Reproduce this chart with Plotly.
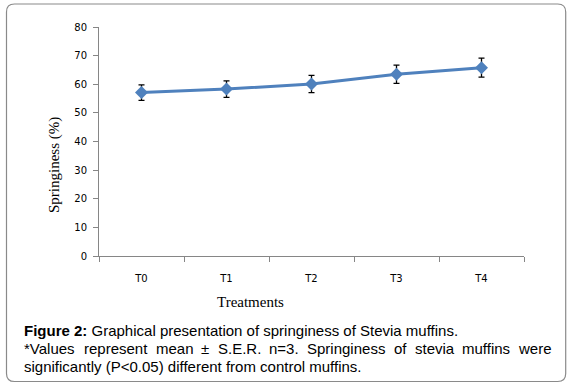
import plotly.graph_objects as go

categories = ["T0", "T1", "T2", "T3", "T4"]
springiness = [57.1, 58.3, 60.1, 63.5, 65.8]
ser = [2.7, 2.9, 3.0, 3.2, 3.3]
y_ticks = [0, 10, 20, 30, 40, 50, 60, 70, 80]

W, H = 575, 389
L, R, T, B = 99, 51, 27, 133
pw, ph = W - L - R, H - T - B

def px(x):
    return (x - L) / pw

def py(y):
    return (H - B - y) / ph

fig = go.Figure()
fig.add_trace(go.Scatter(
    x=categories, y=springiness,
    mode="lines+markers",
    line=dict(color="#4F81BD", width=3),
    marker=dict(symbol="diamond", size=10, color="#4F81BD"),
    error_y=dict(type="data", array=ser, visible=True, color="black", thickness=1.3, width=3),
    showlegend=False,
))

# rounded border
x0, x1 = px(6.5), px(565.7)
y0, y1 = py(381.5), py(4)
rx, ry = 8 / pw, 8 / ph
path = (f"M {x0+rx},{y1} L {x1-rx},{y1} Q {x1},{y1} {x1},{y1-ry} "
        f"L {x1},{y0+ry} Q {x1},{y0} {x1-rx},{y0} L {x0+rx},{y0} "
        f"Q {x0},{y0} {x0},{y0+ry} L {x0},{y1-ry} Q {x0},{y1} {x0+rx},{y1} Z")
fig.add_shape(type="path", path=path, xref="paper", yref="paper",
              line=dict(color="#8a8a8a", width=1.2))

fig.add_annotation(text="Treatments", xref="paper", yref="paper",
                   x=px(250), y=py(302), xanchor="center", yanchor="middle", showarrow=False,
                   font=dict(family="Liberation Serif", size=15, color="black"))
fig.add_annotation(text="Springiness (%)", xref="paper", yref="paper",
                   x=px(54), y=py(165), xanchor="center", yanchor="middle",
                   showarrow=False, textangle=-90,
                   font=dict(family="Liberation Serif", size=15, color="black"))

FS = 15
cap_font = dict(family="Liberation Sans", size=FS, color="black")
line1 = "<b>Figure 2:</b> Graphical presentation of springiness of Stevia muffins."
line2_words = ["*Values", "represent", "mean", "±", "S.E.R.", "n=3.", "Springiness",
               "of", "stevia", "muffins", "were"]
line3 = "significantly (P&lt;0.05) different from control muffins."

# Arial / Liberation Sans advance widths (per 1000 em) for justification
aw = {"*": 389, "V": 667, "a": 556, "l": 222, "u": 556, "e": 556, "s": 500, "r": 333,
      "p": 556, "n": 556, "t": 278, "m": 833, "±": 549, "S": 667, ".": 278, "E": 667,
      "R": 722, "=": 584, "3": 556, "i": 222, "g": 556, "o": 556, "f": 278, "v": 500,
      "w": 722}
widths = [sum(aw.get(c, 556) for c in w) * FS / 1000 for w in line2_words]
left, right = 22, 549
gap = (right - left - sum(widths)) / (len(widths) - 1)
xx = left
for w, wd in zip(line2_words, widths):
    fig.add_annotation(text=w, xref="paper", yref="paper", x=px(xx), y=py(348),
                       xanchor="left", yanchor="middle", showarrow=False, font=cap_font)
    xx += wd + gap

fig.add_annotation(text=line1, xref="paper", yref="paper", x=px(left), y=py(330),
                   xanchor="left", yanchor="middle", showarrow=False, font=cap_font)
fig.add_annotation(text=line3, xref="paper", yref="paper", x=px(left), y=py(366.5),
                   xanchor="left", yanchor="middle", showarrow=False, font=cap_font)

fig.update_layout(
    width=W, height=H,
    margin=dict(l=L, r=R, t=T, b=B),
    paper_bgcolor="white", plot_bgcolor="white",
    xaxis=dict(type="category", range=[-0.5, 4.5], showline=True, linecolor="#868686",
               linewidth=1, ticks="outside", tickson="boundaries", ticklen=5,
               tickcolor="#868686", showgrid=False, zeroline=False, ticklabelstandoff=13,
               tickfont=dict(family="DejaVu Sans", size=10, color="black")),
    yaxis=dict(range=[0, 80], tickvals=y_ticks, showline=True, linecolor="#868686",
               linewidth=1, ticks="outside", ticklen=5, tickcolor="#868686",
               showgrid=False, zeroline=False, ticklabelstandoff=4,
               tickfont=dict(family="DejaVu Sans", size=10, color="black")),
)

fig.write_html("out.html", config={"displayModeBar": False},
               post_script="document.body.style.margin='0';")
